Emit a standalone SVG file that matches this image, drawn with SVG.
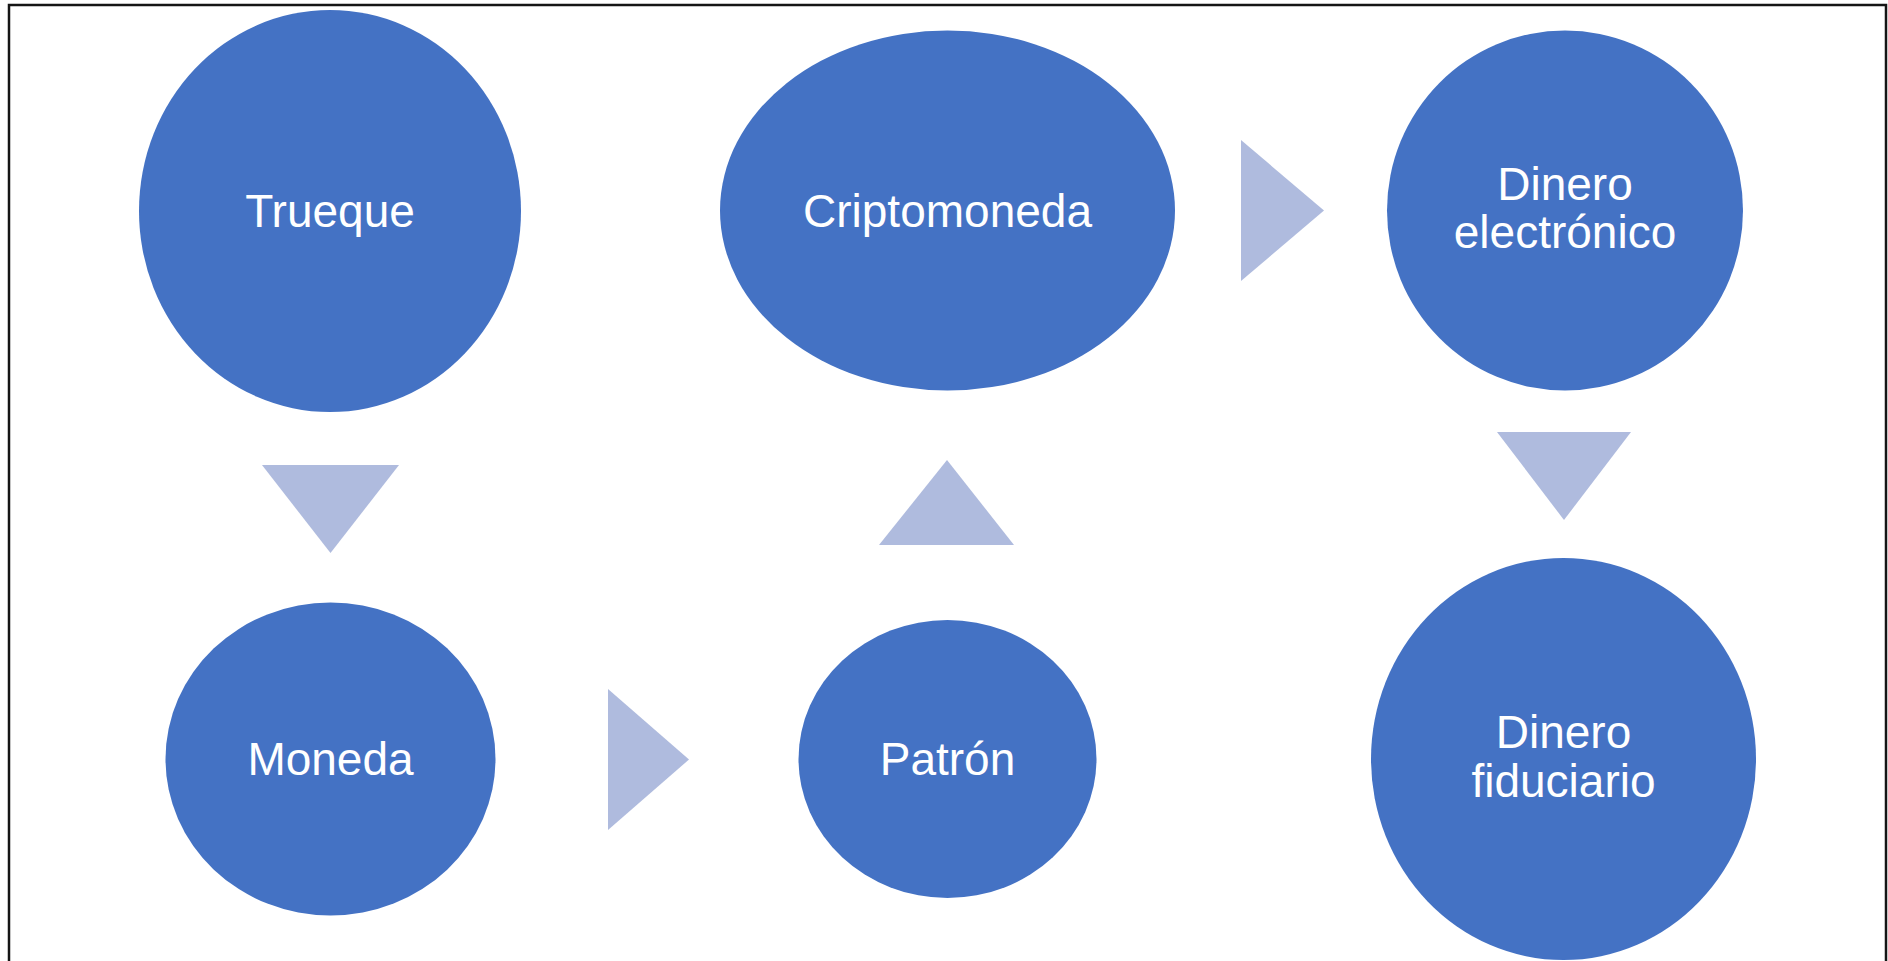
<svg xmlns="http://www.w3.org/2000/svg" width="1888" height="961" viewBox="0 0 1888 961">
  <style>
    .node { fill: #4472C4; }
    .arrow { fill: #AFBBDE; }
    .lbl { font-family: "Liberation Sans", Arial, sans-serif; font-size: 46px; fill: #FFFFFF; text-anchor: middle; }
  </style>
  <rect x="0" y="0" width="1888" height="961" fill="#FFFFFF"/>
  <path d="M9,961 V5 H1886 V961" fill="none" stroke="#151515" stroke-width="2.5"/>

  <g id="connectors">
    <polygon class="arrow" points="262,465 399,465 330.5,553"/>
    <polygon class="arrow" points="608,689 608,830 689,759.5"/>
    <polygon class="arrow" points="879,545 1014,545 947,460"/>
    <polygon class="arrow" points="1241,140 1241,281 1324,210.5"/>
    <polygon class="arrow" points="1497,432 1631,432 1564,520"/>
  </g>

  <g id="node-trueque">
    <ellipse class="node" cx="330" cy="211" rx="191" ry="201"/>
    <text class="lbl" x="330" y="227">Trueque</text>
  </g>
  <g id="node-moneda">
    <ellipse class="node" cx="330.5" cy="759" rx="165" ry="156.5"/>
    <text class="lbl" x="330.5" y="775">Moneda</text>
  </g>
  <g id="node-patron">
    <ellipse class="node" cx="947.5" cy="759" rx="149" ry="139"/>
    <text class="lbl" x="947.5" y="775">Patrón</text>
  </g>
  <g id="node-criptomoneda">
    <ellipse class="node" cx="947.5" cy="210.5" rx="227.5" ry="180"/>
    <text class="lbl" x="947.5" y="227">Criptomoneda</text>
  </g>
  <g id="node-dinero-electronico">
    <ellipse class="node" cx="1565" cy="210.5" rx="178" ry="180"/>
    <text class="lbl" x="1565" y="200">Dinero</text>
    <text class="lbl" x="1565" y="248">electrónico</text>
  </g>
  <g id="node-dinero-fiduciario">
    <ellipse class="node" cx="1563.5" cy="759" rx="192.5" ry="201"/>
    <text class="lbl" x="1563.5" y="748">Dinero</text>
    <text class="lbl" x="1563.5" y="797">fiduciario</text>
  </g>
</svg>
